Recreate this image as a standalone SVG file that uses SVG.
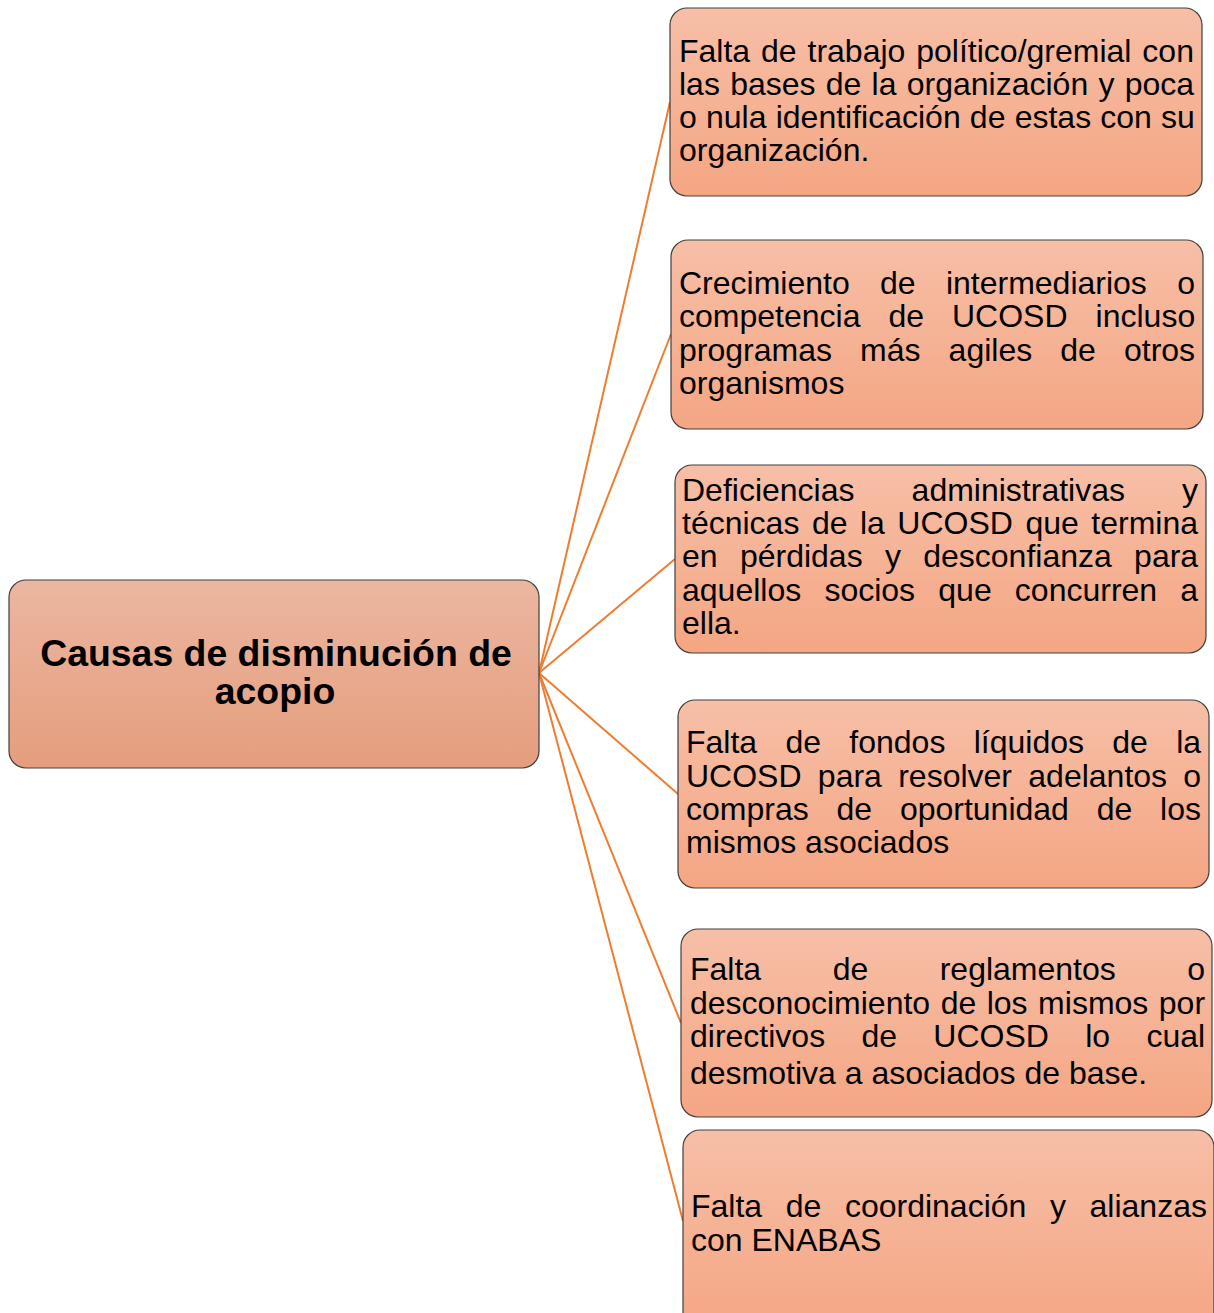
<svg xmlns="http://www.w3.org/2000/svg" width="1214" height="1313" viewBox="0 0 1214 1313">
<defs>
<linearGradient id="gBox" x1="0" y1="0" x2="0" y2="1">
<stop offset="0" stop-color="#F7BFA7"/>
<stop offset="1" stop-color="#F4A683"/>
</linearGradient>
<linearGradient id="gMain" x1="0" y1="0" x2="0" y2="1">
<stop offset="0" stop-color="#EBB7A0"/>
<stop offset="1" stop-color="#E59D7E"/>
</linearGradient>
</defs>
<style>
.box{fill:url(#gBox);stroke:#404040;stroke-width:1.2}
.main{fill:url(#gMain);stroke:#404040;stroke-width:1.2}
.t{font-family:"Liberation Sans",Arial,sans-serif;font-size:32px;fill:#000}
.h{font-family:"Liberation Sans",Arial,sans-serif;font-size:37.4px;font-weight:bold;fill:#000;text-anchor:middle}
.c{stroke:#ED7D31;stroke-width:2;fill:none}
</style>
<g id="connectors">
<line class="c" x1="539" y1="673" x2="670" y2="102"/>
<line class="c" x1="539" y1="673" x2="671" y2="334"/>
<line class="c" x1="539" y1="673" x2="675" y2="559"/>
<line class="c" x1="539" y1="673" x2="678" y2="794"/>
<line class="c" x1="539" y1="673" x2="681" y2="1023"/>
<line class="c" x1="539" y1="673" x2="683" y2="1221"/>
</g>
<g id="main">
<rect class="main" x="9" y="580" width="530" height="188" rx="17"/>
<text class="h" x="276" y="666">Causas de disminución de</text>
<text class="h" x="275" y="704">acopio</text>
</g>
<g id="n1">
<rect class="box" x="670" y="8" width="532" height="188" rx="17"/>
<text class="t" x="679" y="62" word-spacing="2">Falta de trabajo político/gremial con</text>
<text class="t" x="679" y="95" word-spacing="1.35">las bases de la organización y poca</text>
<text class="t" x="679" y="128" word-spacing="0.3">o nula identificación de estas con su</text>
<text class="t" x="679" y="161">organización.</text>
</g>
<g id="n2">
<rect class="box" x="671" y="240" width="532" height="189" rx="17"/>
<text class="t" x="679" y="294" word-spacing="21.4">Crecimiento de intermediarios o</text>
<text class="t" x="679" y="327" word-spacing="19.1">competencia de UCOSD incluso</text>
<text class="t" x="679" y="361" word-spacing="19.2">programas más agiles de otros</text>
<text class="t" x="679" y="394">organismos</text>
</g>
<g id="n3">
<rect class="box" x="675" y="465" width="531" height="188" rx="17"/>
<text class="t" x="682" y="501" word-spacing="48.2">Deficiencias administrativas y</text>
<text class="t" x="682" y="534" word-spacing="3.6">técnicas de la UCOSD que termina</text>
<text class="t" x="682" y="567" word-spacing="13.4">en pérdidas y desconfianza para</text>
<text class="t" x="682" y="601" word-spacing="14.3">aquellos socios que concurren a</text>
<text class="t" x="682" y="634">ella.</text>
</g>
<g id="n4">
<rect class="box" x="678" y="700" width="531" height="188" rx="17"/>
<text class="t" x="686" y="753" word-spacing="19.4">Falta de fondos líquidos de la</text>
<text class="t" x="686" y="787" word-spacing="7.4">UCOSD para resolver adelantos o</text>
<text class="t" x="686" y="820" word-spacing="18.9">compras de oportunidad de los</text>
<text class="t" x="686" y="853">mismos asociados</text>
</g>
<g id="n5">
<rect class="box" x="681" y="929" width="531" height="188" rx="17"/>
<text class="t" x="690" y="980" word-spacing="62.6">Falta de reglamentos o</text>
<text class="t" x="690" y="1014" word-spacing="1.6">desconocimiento de los mismos por</text>
<text class="t" x="690" y="1047" word-spacing="27.4">directivos de UCOSD lo cual</text>
<text class="t" x="690" y="1084">desmotiva a asociados de base.</text>
</g>
<g id="n6">
<rect class="box" x="683" y="1130" width="531" height="200" rx="17"/>
<text class="t" x="691" y="1217" word-spacing="14.7">Falta de coordinación y alianzas</text>
<text class="t" x="691" y="1251">con ENABAS</text>
</g>
</svg>
